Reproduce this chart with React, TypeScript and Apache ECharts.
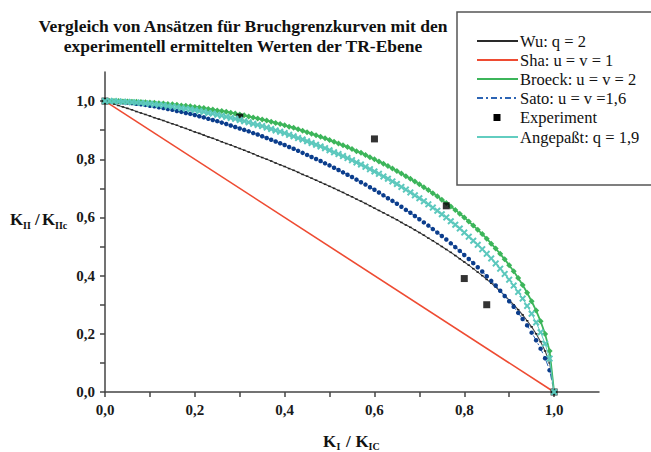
import React, { useEffect, useRef } from 'react';
import * as echarts from 'echarts';

const xs = [
  0.00, 0.01, 0.02, 0.03, 0.04, 0.05, 0.06, 0.07, 0.08, 0.09,
  0.10, 0.11, 0.12, 0.13, 0.14, 0.15, 0.16, 0.17, 0.18, 0.19,
  0.20, 0.21, 0.22, 0.23, 0.24, 0.25, 0.26, 0.27, 0.28, 0.29,
  0.30, 0.31, 0.32, 0.33, 0.34, 0.35, 0.36, 0.37, 0.38, 0.39,
  0.40, 0.41, 0.42, 0.43, 0.44, 0.45, 0.46, 0.47, 0.48, 0.49,
  0.50, 0.51, 0.52, 0.53, 0.54, 0.55, 0.56, 0.57, 0.58, 0.59,
  0.60, 0.61, 0.62, 0.63, 0.64, 0.65, 0.66, 0.67, 0.68, 0.69,
  0.70, 0.71, 0.72, 0.73, 0.74, 0.75, 0.76, 0.77, 0.78, 0.79,
  0.80, 0.81, 0.82, 0.83, 0.84, 0.85, 0.86, 0.87, 0.88, 0.89,
  0.90, 0.91, 0.92, 0.93, 0.94, 0.95, 0.96, 0.97, 0.98, 0.99,
  1.00,
];

const wuY = [
  1.000, 0.995, 0.990, 0.985, 0.980, 0.975, 0.970, 0.964, 0.959, 0.954,
  0.949, 0.943, 0.938, 0.933, 0.927, 0.922, 0.917, 0.911, 0.906, 0.900,
  0.894, 0.889, 0.883, 0.877, 0.872, 0.866, 0.860, 0.854, 0.849, 0.843,
  0.837, 0.831, 0.825, 0.819, 0.812, 0.806, 0.800, 0.794, 0.787, 0.781,
  0.775, 0.768, 0.762, 0.755, 0.748, 0.742, 0.735, 0.728, 0.721, 0.714,
  0.707, 0.700, 0.693, 0.686, 0.678, 0.671, 0.663, 0.656, 0.648, 0.640,
  0.632, 0.624, 0.616, 0.608, 0.600, 0.592, 0.583, 0.574, 0.566, 0.557,
  0.548, 0.539, 0.529, 0.520, 0.510, 0.500, 0.490, 0.480, 0.469, 0.458,
  0.447, 0.436, 0.424, 0.412, 0.400, 0.387, 0.374, 0.361, 0.346, 0.332,
  0.316, 0.300, 0.283, 0.265, 0.245, 0.224, 0.200, 0.173, 0.141, 0.100,
  0.000,
];

const broeckY = [
  1.000, 1.000, 1.000, 1.000, 0.999, 0.999, 0.998, 0.998, 0.997, 0.996,
  0.995, 0.994, 0.993, 0.992, 0.990, 0.989, 0.987, 0.985, 0.984, 0.982,
  0.980, 0.978, 0.976, 0.973, 0.971, 0.968, 0.966, 0.963, 0.960, 0.957,
  0.954, 0.951, 0.947, 0.944, 0.940, 0.937, 0.933, 0.929, 0.925, 0.921,
  0.917, 0.912, 0.908, 0.903, 0.898, 0.893, 0.888, 0.883, 0.877, 0.872,
  0.866, 0.860, 0.854, 0.848, 0.842, 0.835, 0.828, 0.822, 0.815, 0.807,
  0.800, 0.792, 0.785, 0.777, 0.768, 0.760, 0.751, 0.742, 0.733, 0.724,
  0.714, 0.704, 0.694, 0.683, 0.673, 0.661, 0.650, 0.638, 0.626, 0.613,
  0.600, 0.586, 0.572, 0.558, 0.543, 0.527, 0.510, 0.493, 0.475, 0.456,
  0.436, 0.415, 0.392, 0.368, 0.341, 0.312, 0.280, 0.243, 0.199, 0.141,
  0.000,
];

const satoY = [
  1.000, 1.000, 0.999, 0.998, 0.996, 0.995, 0.993, 0.991, 0.989, 0.987,
  0.984, 0.982, 0.979, 0.976, 0.973, 0.970, 0.966, 0.963, 0.959, 0.956,
  0.952, 0.948, 0.944, 0.939, 0.935, 0.931, 0.926, 0.921, 0.916, 0.911,
  0.906, 0.901, 0.896, 0.890, 0.885, 0.879, 0.873, 0.867, 0.861, 0.855,
  0.849, 0.842, 0.836, 0.829, 0.822, 0.815, 0.808, 0.801, 0.794, 0.786,
  0.779, 0.771, 0.763, 0.755, 0.747, 0.739, 0.730, 0.721, 0.713, 0.704,
  0.695, 0.686, 0.676, 0.666, 0.657, 0.647, 0.637, 0.626, 0.616, 0.605,
  0.594, 0.583, 0.572, 0.560, 0.548, 0.536, 0.524, 0.511, 0.498, 0.485,
  0.471, 0.457, 0.443, 0.429, 0.414, 0.398, 0.382, 0.366, 0.348, 0.330,
  0.312, 0.293, 0.272, 0.251, 0.229, 0.204, 0.178, 0.149, 0.116, 0.075,
  0.000,
];

const angepasstY = [
  1.000, 1.000, 1.000, 0.999, 0.998, 0.997, 0.996, 0.995, 0.994, 0.992,
  0.991, 0.989, 0.987, 0.986, 0.983, 0.981, 0.979, 0.976, 0.974, 0.972,
  0.969, 0.966, 0.963, 0.959, 0.957, 0.953, 0.950, 0.946, 0.942, 0.939,
  0.935, 0.931, 0.927, 0.922, 0.918, 0.914, 0.909, 0.904, 0.899, 0.895,
  0.890, 0.884, 0.879, 0.873, 0.868, 0.862, 0.856, 0.850, 0.844, 0.838,
  0.831, 0.824, 0.818, 0.811, 0.804, 0.797, 0.789, 0.782, 0.774, 0.766,
  0.758, 0.750, 0.741, 0.733, 0.724, 0.715, 0.705, 0.696, 0.686, 0.676,
  0.666, 0.656, 0.645, 0.634, 0.623, 0.611, 0.600, 0.587, 0.575, 0.562,
  0.548, 0.534, 0.520, 0.506, 0.491, 0.475, 0.459, 0.442, 0.424, 0.406,
  0.386, 0.366, 0.344, 0.321, 0.296, 0.269, 0.239, 0.205, 0.166, 0.115,
  0.000,
];

const shaX = [0, 1];
const shaY = [1, 0];

const expX = [0, 0.3, 0.6, 0.76, 0.8, 0.85, 1.0];
const expY = [1.0, 0.945, 0.87, 0.64, 0.39, 0.30, 0.0];

const titleLines = [
  'Vergleich von Ansätzen für Bruchgrenzkurven mit den',
  'experimentell ermittelten Werten der TR-Ebene',
];

const legendItems = [
  { name: 'Wu: q = 2', kind: 'line', color: '#2a2a2a', dash: null as null | number[] },
  { name: 'Sha: u = v = 1', kind: 'line', color: '#ee4b32', dash: null },
  { name: 'Broeck: u = v = 2', kind: 'line', color: '#3cb55a', dash: null },
  { name: 'Sato: u = v =1,6', kind: 'line', color: '#2c64b4', dash: [6, 3, 2, 3] },
  { name: 'Experiment', kind: 'square', color: '#000000', dash: null },
  { name: 'Angepaßt: q = 1,9', kind: 'line', color: '#62cdc0', dash: null },
];

const SERIF = '"Liberation Serif", "Times New Roman", serif';
const CROSS = 'path://M0,2L2,0L5,3L8,0L10,2L7,5L10,8L8,10L5,7L2,10L0,8L3,5Z';

const zip = (a: number[], b: number[]) => a.map((v, i) => [v, b[i]]);

const fmt = (v: number) => {
  const k = Math.round(v * 10);
  if (k % 2 !== 0 || k > 10) return '';
  return (k / 10).toFixed(1).replace('.', ',');
};

function buildGraphic() {
  const els: any[] = [];
  els.push({
    type: 'text',
    x: 243,
    y: 16,
    style: {
      text: titleLines.join('\n'),
      align: 'center',
      verticalAlign: 'top',
      fontFamily: SERIF,
      fontWeight: 'bold',
      fontSize: 17.5,
      lineHeight: 20,
      fill: '#111',
    },
  });
  // legend box
  els.push({
    type: 'rect',
    shape: { x: 457, y: 12, width: 230, height: 173 },
    style: { fill: '#fff', stroke: '#555', lineWidth: 1.5 },
  });
  const rowY = [41, 60, 79, 98, 117.5, 137];
  legendItems.forEach((it, i) => {
    const y = rowY[i];
    if (it.kind === 'line') {
      els.push({
        type: 'line',
        shape: { x1: 477, y1: y, x2: 518, y2: y },
        style: { stroke: it.color, lineWidth: 2, lineDash: it.dash || undefined },
      });
    } else {
      els.push({
        type: 'rect',
        shape: { x: 493.5, y: y - 3.5, width: 7, height: 7 },
        style: { fill: it.color },
      });
    }
    els.push({
      type: 'text',
      x: 520,
      y: y,
      style: {
        text: it.name,
        align: 'left',
        verticalAlign: 'middle',
        fontFamily: SERIF,
        fontSize: 16.5,
        fill: '#111',
      },
    });
  });

  const big = (text: string, x: number, y: number) => ({
    type: 'text', x, y,
    style: { text, align: 'left', verticalAlign: 'middle', fontFamily: SERIF, fontWeight: 'bold', fontSize: 17, fill: '#111' },
  });
  const sub = (text: string, x: number, y: number) => ({
    type: 'text', x, y,
    style: { text, align: 'left', verticalAlign: 'middle', fontFamily: SERIF, fontWeight: 'bold', fontSize: 10, fill: '#111' },
  });
  // x axis name K_I / K_IC
  els.push(big('K', 323, 441));
  els.push(sub('I', 336.5, 446));
  els.push(big('/', 346, 441));
  els.push(big('K', 355.5, 441));
  els.push(sub('IC', 368.5, 446));
  // y axis name K_II / K_IIc
  els.push(big('K', 10, 219));
  els.push(sub('II', 23, 225.5));
  els.push(big('/', 35, 219));
  els.push(big('K', 42, 219));
  els.push(sub('IIc', 55, 225.5));
  return els;
}

const axisCommon = {
  type: 'value' as const,
  min: 0,
  max: 1.1,
  interval: 0.1,
  splitLine: { show: false },
  axisLine: { show: true, onZero: false, lineStyle: { color: '#444', width: 1.5 } },
  axisTick: { show: true, inside: false, length: 5, lineStyle: { color: '#444', width: 1.5 } },
  axisLabel: {
    formatter: fmt,
    fontFamily: SERIF,
    fontWeight: 'bold' as const,
    fontSize: 15,
    color: '#1a1a1a',
    showMaxLabel: false,
  },
};

export default function App() {
  const ref = useRef<HTMLDivElement>(null);
  useEffect(() => {
    if (!ref.current) return;
    const chart = echarts.init(ref.current, null, { renderer: 'svg' });
    const option: any = {
      animation: false,
      backgroundColor: '#ffffff',
      grid: { left: 105, right: 52, top: 72, bottom: 60, containLabel: false },
      xAxis: { ...axisCommon, axisLabel: { ...axisCommon.axisLabel, margin: 10 } },
      yAxis: { ...axisCommon, axisLabel: { ...axisCommon.axisLabel, margin: 10 } },
      series: [
        {
          name: 'Sha: u = v = 1',
          type: 'line',
          data: zip(shaX, shaY),
          showSymbol: false,
          symbol: 'none',
          lineStyle: { color: '#ee4b32', width: 1.6 },
          z: 2,
        },
        {
          name: 'Wu: q = 2',
          type: 'line',
          data: zip(xs, wuY),
          symbol: 'rect',
          symbolSize: [2.5, 1.5],
          showAllSymbol: true,
          itemStyle: { color: '#222' },
          lineStyle: { color: '#444', width: 1.1 },
          z: 3,
        },
        {
          name: 'Sato: u = v =1,6',
          type: 'line',
          data: zip(xs, satoY),
          symbol: 'circle',
          symbolSize: 4.5,
          showAllSymbol: true,
          itemStyle: { color: '#0b3d8c' },
          lineStyle: { color: '#2c64b4', width: 1, type: [6, 3, 2, 3] },
          z: 4,
        },
        {
          name: 'Broeck: u = v = 2',
          type: 'line',
          data: zip(xs, broeckY),
          symbol: 'diamond',
          symbolSize: 6,
          showAllSymbol: true,
          itemStyle: { color: '#3cb55a' },
          lineStyle: { color: '#3cb55a', width: 1.8 },
          z: 5,
        },
        {
          name: 'Experiment',
          type: 'scatter',
          data: zip(expX, expY),
          symbol: 'rect',
          symbolSize: 7,
          itemStyle: { color: '#000' },
          z: 6,
        },
        {
          name: 'Angepaßt: q = 1,9',
          type: 'line',
          data: zip(xs, angepasstY),
          symbol: CROSS,
          symbolSize: 7,
          showAllSymbol: true,
          itemStyle: { color: '#5cc8bd' },
          lineStyle: { color: '#5cc8bd', width: 1 },
          z: 7,
        },
      ],
      graphic: buildGraphic(),
    };
    chart.setOption(option);
    return () => chart.dispose();
  }, []);
  return (
    <div
      ref={ref}
      style={{ position: 'fixed', left: 0, top: 0, width: 651, height: 452, background: '#fff' }}
    />
  );
}
